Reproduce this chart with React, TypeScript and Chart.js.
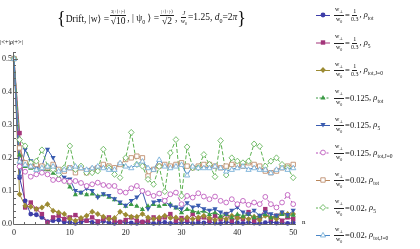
import React, { useEffect, useRef } from 'react';
import { Chart, registerables } from 'chart.js';
Chart.register(...registerables);

const nValues = [0,1,2,3,4,5,6,7,8,9,10,11,12,13,14,15,16,17,18,19,20,21,22,23,24,25,26,27,28,29,30,31,32,33,34,35,36,37,38,39,40,41,42,43,44,45,46,47,48,49,50];
const xTicks = [0, 10, 20, 30, 40, 50];
const yTicks = [0, 0.1, 0.2, 0.3, 0.4, 0.5];

const s1 = [0.5,0.14,0.07,0.03,0.028,0.02,0.007,0.01,0.012,0.006,0.005,0.002,0.006,0.01,0.005,0.003,0.008,0.004,0.002,0.006,0.005,0.003,0.002,0.006,0.004,0.002,0.003,0.005,0.002,0.004,0.003,0.006,0.002,0.004,0.003,0.005,0.003,0.002,0.006,0.003,0.004,0.002,0.005,0.003,0.002,0.004,0.006,0.003,0.004,0.002,0.004];
const s2 = [0.5,0.275,0.05,0.065,0.045,0.03,0.004,0.02,0.025,0.015,0.02,0.027,0.015,0.01,0.02,0.008,0.015,0.02,0.01,0.006,0.012,0.02,0.01,0.006,0.01,0.02,0.015,0.02,0.03,0.01,0.018,0.012,0.03,0.015,0.02,0.01,0.025,0.015,0.03,0.01,0.02,0.015,0.036,0.01,0.02,0.045,0.015,0.025,0.01,0.02,0.015];
const s3 = [0.5,0.09,0.055,0.052,0.045,0.05,0.06,0.04,0.035,0.03,0.015,0.01,0.018,0.025,0.037,0.03,0.022,0.015,0.018,0.037,0.028,0.022,0.022,0.03,0.02,0.015,0.02,0.025,0.018,0.02,0.012,0.02,0.015,0.02,0.025,0.018,0.012,0.02,0.015,0.025,0.018,0.02,0.015,0.022,0.012,0.025,0.02,0.015,0.033,0.03,0.03];
const s4 = [0.5,0.21,0.175,0.17,0.165,0.16,0.165,0.155,0.143,0.133,0.113,0.09,0.095,0.09,0.092,0.085,0.09,0.082,0.075,0.063,0.055,0.06,0.055,0.045,0.055,0.06,0.055,0.06,0.06,0.05,0.035,0.045,0.04,0.035,0.04,0.03,0.035,0.025,0.03,0.02,0.03,0.025,0.03,0.02,0.025,0.03,0.02,0.025,0.03,0.025,0.028];
const s5 = [0.5,0.143,0.225,0.19,0.17,0.175,0.225,0.2,0.158,0.14,0.135,0.1,0.095,0.107,0.1,0.08,0.09,0.085,0.075,0.065,0.055,0.07,0.08,0.098,0.045,0.065,0.07,0.068,0.055,0.05,0.045,0.063,0.05,0.055,0.045,0.04,0.045,0.035,0.03,0.04,0.05,0.035,0.03,0.04,0.025,0.035,0.03,0.025,0.035,0.027,0.04];
const s6 = [0.5,0.174,0.158,0.143,0.15,0.155,0.15,0.133,0.135,0.13,0.128,0.13,0.124,0.115,0.12,0.125,0.118,0.115,0.115,0.098,0.095,0.108,0.115,0.1,0.093,0.085,0.092,0.07,0.09,0.095,0.06,0.085,0.08,0.093,0.083,0.075,0.083,0.07,0.065,0.075,0.06,0.07,0.058,0.065,0.06,0.082,0.06,0.05,0.065,0.088,0.06];
const s7 = [0.5,0.23,0.185,0.175,0.18,0.175,0.17,0.18,0.165,0.16,0.17,0.155,0.17,0.155,0.165,0.17,0.18,0.175,0.17,0.18,0.195,0.2,0.205,0.2,0.145,0.165,0.175,0.18,0.175,0.18,0.185,0.175,0.17,0.175,0.18,0.18,0.175,0.17,0.175,0.18,0.18,0.175,0.185,0.18,0.175,0.16,0.155,0.16,0.17,0.175,0.18];
const s8 = [0.5,0.255,0.236,0.185,0.19,0.224,0.175,0.165,0.15,0.17,0.236,0.165,0.175,0.155,0.155,0.16,0.226,0.17,0.15,0.14,0.2,0.277,0.18,0.175,0.135,0.12,0.174,0.098,0.215,0.255,0.085,0.233,0.17,0.17,0.21,0.18,0.143,0.252,0.148,0.2,0.19,0.185,0.19,0.242,0.235,0.175,0.19,0.2,0.18,0.17,0.14];
const s9 = [0.5,0.19,0.18,0.175,0.165,0.17,0.175,0.175,0.16,0.165,0.17,0.175,0.17,0.165,0.17,0.175,0.17,0.165,0.165,0.185,0.175,0.17,0.18,0.19,0.17,0.165,0.195,0.175,0.17,0.175,0.18,0.148,0.175,0.17,0.17,0.17,0.175,0.17,0.16,0.165,0.17,0.175,0.165,0.17,0.165,0.165,0.155,0.165,0.17,0.165,0.17];

const seriesValues = [s1, s2, s3, s4, s5, s6, s7, s8, s9];
const wRatioLabels = ['1/0.3', '1/0.3', '1/0.3', '0.125', '0.125', '0.125', '0.02', '0.02', '0.02'];
const rhoLabels = ['tot', '5', 'tot,J=0', 'tot', '5', 'tot,J=0', 'tot', '5', 'tot,J=0'];

type Style = { line: string; mark: string; shape: string; open: boolean; dash: number[] };
const styles: Style[] = [
  { line: '#3d3da8', mark: '#3d3da8', shape: 'circle', open: false, dash: [] },
  { line: '#a3357a', mark: '#a3357a', shape: 'rect', open: false, dash: [] },
  { line: '#9c8b33', mark: '#9c8b33', shape: 'diamond', open: false, dash: [] },
  { line: '#3b9a45', mark: '#3b9a45', shape: 'triangle', open: false, dash: [4, 2] },
  { line: '#3a5cb0', mark: '#3a5cb0', shape: 'triangleDown', open: false, dash: [] },
  { line: '#b84cb8', mark: '#c060c0', shape: 'circle', open: true, dash: [4, 2] },
  { line: '#b8865a', mark: '#c09070', shape: 'rect', open: true, dash: [] },
  { line: '#5cb050', mark: '#6ab860', shape: 'diamond', open: true, dash: [4, 2] },
  { line: '#4a86c6', mark: '#78b0d8', shape: 'triangle', open: true, dash: [] },
];

function drawMarker(ctx: CanvasRenderingContext2D, s: Style, x: number, y: number) {
  ctx.save();
  ctx.setLineDash([]);
  ctx.lineWidth = 0.9;
  ctx.strokeStyle = s.mark;
  ctx.fillStyle = s.mark;
  ctx.beginPath();
  const r = 2.6;
  if (s.shape === 'circle') {
    ctx.arc(x, y, 2.4, 0, Math.PI * 2);
  } else if (s.shape === 'rect') {
    ctx.rect(x - 2.2, y - 2.2, 4.4, 4.4);
  } else if (s.shape === 'diamond') {
    ctx.moveTo(x, y - 3); ctx.lineTo(x + 2.8, y); ctx.lineTo(x, y + 3); ctx.lineTo(x - 2.8, y); ctx.closePath();
  } else if (s.shape === 'triangle') {
    ctx.moveTo(x, y - r); ctx.lineTo(x + r, y + r * 0.75); ctx.lineTo(x - r, y + r * 0.75); ctx.closePath();
  } else {
    ctx.moveTo(x, y + r); ctx.lineTo(x + r, y - r * 0.75); ctx.lineTo(x - r, y - r * 0.75); ctx.closePath();
  }
  if (s.open) {
    ctx.fillStyle = '#ffffff';
    ctx.fill();
    ctx.stroke();
  } else {
    ctx.fill();
  }
  ctx.restore();
}

const LEG_X = 323;
const LEG_Y0 = 15;
const LEG_DY = 27.5;

const customDraw = {
  id: 'customDraw',
  afterDatasetsDraw(chart: any) {
    const ctx: CanvasRenderingContext2D = chart.ctx;
    const xs = chart.scales.x;
    const ys = chart.scales.y;
    chart.data.datasets.forEach((ds: any, i: number) => {
      const meta = chart.getDatasetMeta(i);
      meta.data.forEach((pt: any) => drawMarker(ctx, styles[i], pt.x, pt.y));
    });
    const x0 = xs.getPixelForValue(0);
    const y0 = ys.getPixelForValue(0);
    ctx.save();
    ctx.strokeStyle = '#666';
    ctx.lineWidth = 1;
    ctx.beginPath();
    ctx.moveTo(x0 - 0.5, y0 + 0.5); ctx.lineTo(xs.right, y0 + 0.5);
    ctx.moveTo(x0 - 0.5, y0 + 0.5); ctx.lineTo(x0 - 0.5, ys.top);
    for (let v = 0; v <= 50; v += 2) {
      const px = Math.round(xs.getPixelForValue(v)) - 0.5;
      const len = v % 10 === 0 ? 4 : 2;
      ctx.moveTo(px, y0); ctx.lineTo(px, y0 - len);
    }
    for (let k = 0; k <= 26; k++) {
      const v = k * 0.02;
      const py = Math.round(ys.getPixelForValue(v)) + 0.5;
      const len = k % 5 === 0 ? 4 : 2;
      ctx.moveTo(x0, py); ctx.lineTo(x0 + len, py);
    }
    ctx.stroke();
    ctx.restore();
    styles.forEach((s, i) => {
      const y = LEG_Y0 + LEG_DY * i;
      ctx.save();
      ctx.strokeStyle = s.line;
      ctx.lineWidth = 1;
      ctx.setLineDash(s.dash.length ? [2, 1.5] : []);
      ctx.beginPath();
      ctx.moveTo(LEG_X - 7, y + 0.5); ctx.lineTo(LEG_X + 7, y + 0.5);
      ctx.stroke();
      ctx.restore();
      drawMarker(ctx, s, LEG_X, y);
    });
  },
};

const serif = '"Liberation Serif", "DejaVu Serif", serif';

const Frac = ({ num, den, size, denSize, gap }: any) => (
  <span style={{ display: 'inline-flex', flexDirection: 'column', alignItems: 'center', verticalAlign: 'middle', lineHeight: 1, margin: '0 1px' }}>
    <span style={{ fontSize: size, borderBottom: '0.7px solid #222', padding: '0 1px 1px 1px' }}>{num}</span>
    <span style={{ fontSize: denSize || size, paddingTop: gap || 0 }}>{den}</span>
  </span>
);

export default function App() {
  const ref = useRef<HTMLCanvasElement>(null);
  useEffect(() => {
    const datasets = seriesValues.map((vals, i) => ({
      label: `${wRatioLabels[i]} ${rhoLabels[i]}`,
      data: vals.map((v, j) => ({ x: nValues[j], y: v })),
      borderColor: styles[i].line,
      borderWidth: 1,
      borderDash: styles[i].dash,
      pointRadius: 0,
      fill: false,
      tension: 0,
      order: 9 - i,
    }));
    const chart = new Chart(ref.current as HTMLCanvasElement, {
      type: 'line',
      data: { datasets },
      options: {
        animation: false,
        responsive: false,
        maintainAspectRatio: false,
        layout: { padding: { left: 0, right: 124, top: 52, bottom: 11 } },
        plugins: { legend: { display: false }, tooltip: { enabled: false } },
        scales: {
          x: {
            type: 'linear', min: 0, max: 50.5,
            grid: { display: false, drawTicks: false }, border: { display: false },
            afterBuildTicks: (s: any) => { s.ticks = xTicks.map((v) => ({ value: v })); },
            afterFit: (s: any) => { s.height = 14; },
            ticks: { padding: 4, color: '#222', font: { family: serif, size: 8 }, maxRotation: 0, autoSkip: false },
          },
          y: {
            type: 'linear', min: 0, max: 0.52,
            grid: { display: false, drawTicks: false }, border: { display: false },
            afterBuildTicks: (s: any) => { s.ticks = yTicks.map((v) => ({ value: v })); },
            afterFit: (s: any) => { s.width = 14; },
            ticks: { padding: 2, color: '#222', font: { family: serif, size: 8 }, callback: (v: any) => Number(v).toFixed(1) },
          },
        },
      },
      plugins: [customDraw],
    });
    return () => chart.destroy();
  }, []);

  return (
    <div style={{ position: 'absolute', left: 0, top: 0, width: 420, height: 249, background: '#fff', fontFamily: serif, color: '#111' }}>
      <canvas ref={ref} width={420} height={249} style={{ position: 'absolute', left: 0, top: 0, width: 420, height: 249 }} />
      <div style={{ position: 'absolute', left: 57, top: 5, whiteSpace: 'nowrap', fontSize: 9.5, display: 'flex', alignItems: 'center', height: 26 }}>
        <span style={{ fontSize: 18, lineHeight: 1 }}>{'{'}</span>
        <span>Drift, |w⟩ =</span>
        <Frac num="3|+⟩+|-⟩" den="√10" size={4.5} denSize={9.5} gap={1} />
        <span>, | ψ<sub style={{ fontSize: 6 }}>0</sub> ⟩ =</span>
        <Frac num="|+⟩+|-⟩" den="√2" size={4.5} denSize={9.5} gap={1} />
        <span>,&nbsp;</span>
        <Frac num={<i>J</i>} den={<span>w<sub style={{ fontSize: 4 }}>0</sub></span>} size={6} />
        <span>=1.25, <i>d</i><sub style={{ fontSize: 6 }}>0</sub>=2<i>π</i></span>
        <span style={{ fontSize: 18, lineHeight: 1 }}>{'}'}</span>
      </div>
      <div style={{ position: 'absolute', left: 0, top: 38, fontSize: 6.5, whiteSpace: 'nowrap' }}>|&lt;+|<i>ρ</i>|+&gt;|</div>
      <div style={{ position: 'absolute', left: 302, top: 218, fontSize: 7 }}>n</div>
      {wRatioLabels.map((w, i) => (
        <div key={i} style={{ position: 'absolute', left: 333, top: LEG_Y0 + LEG_DY * i - 9, height: 18, display: 'flex', alignItems: 'center', whiteSpace: 'nowrap', fontSize: 8.5 }}>
          <Frac num={<span>w<sub style={{ fontSize: 4 }}>⊥</sub></span>} den={<span>w<sub style={{ fontSize: 4 }}>0</sub></span>} size={6} />
          <span>=</span>
          {w === '1/0.3' ? <Frac num="1" den="0.3" size={6} /> : <span>{w}</span>}
          <span>, <i>ρ</i><sub style={{ fontSize: 5.5 }}>{rhoLabels[i]}</sub></span>
        </div>
      ))}
    </div>
  );
}
